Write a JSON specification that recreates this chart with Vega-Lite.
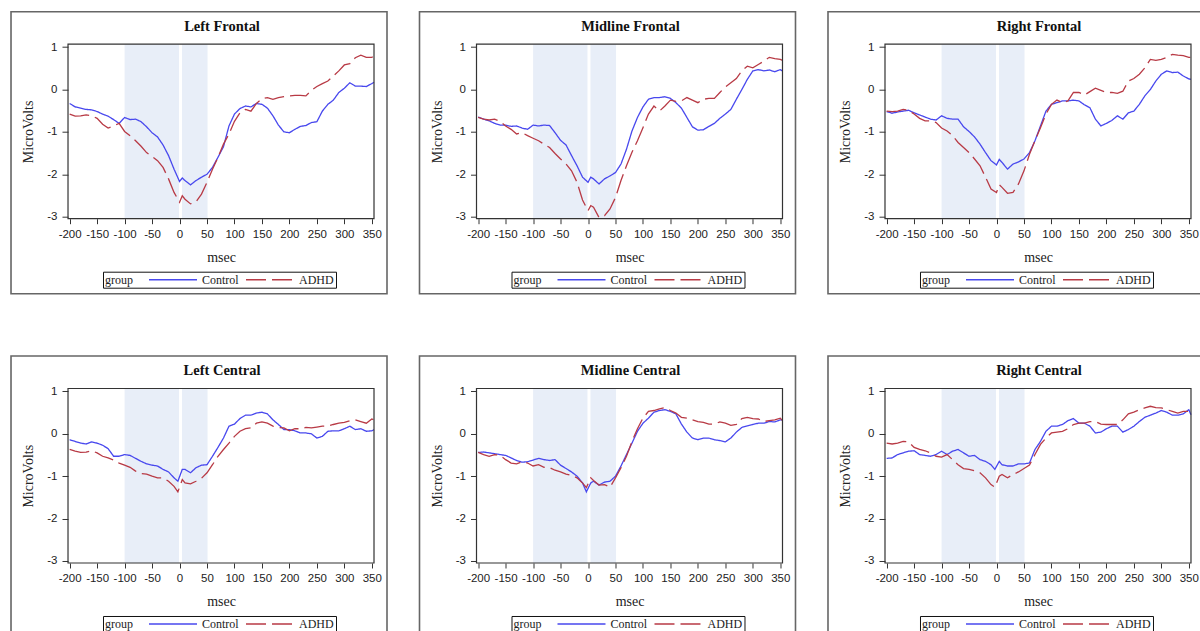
{
  "$schema": "https://vega.github.io/schema/vega-lite/v6.json",
  "padding": {"left": 10, "top": 10.7, "right": 0, "bottom": 0},
  "bounds": "flush",
  "columns": 3,
  "spacing": {"row": 62.3, "column": 32.5},
  "datasets": {
    "shade": [{"a": -100, "b": -1}, {"a": 4.5, "b": 51}],
    "frame": [{"x0": -203, "x1": 354, "y0": -3.05, "y1": 1.07}],
    "lf": [
      {"t":-200,"Control":-0.33,"ADHD":-0.58},{"t":-190,"Control":-0.41,"ADHD":-0.63},{"t":-180,"Control":-0.44,"ADHD":-0.62},{"t":-170,"Control":-0.47,"ADHD":-0.60},{"t":-160,"Control":-0.48,"ADHD":-0.62},{"t":-150,"Control":-0.52,"ADHD":-0.68},{"t":-140,"Control":-0.58,"ADHD":-0.82},{"t":-130,"Control":-0.63,"ADHD":-0.91},{"t":-120,"Control":-0.71,"ADHD":-0.86},{"t":-110,"Control":-0.80,"ADHD":-0.80},{"t":-100,"Control":-0.66,"ADHD":-0.99},{"t":-90,"Control":-0.71,"ADHD":-1.09},{"t":-80,"Control":-0.70,"ADHD":-1.21},{"t":-70,"Control":-0.76,"ADHD":-1.34},{"t":-60,"Control":-0.88,"ADHD":-1.49},{"t":-50,"Control":-1.02,"ADHD":-1.58},{"t":-40,"Control":-1.12,"ADHD":-1.68},{"t":-30,"Control":-1.31,"ADHD":-1.84},{"t":-20,"Control":-1.56,"ADHD":-2.11},{"t":-10,"Control":-1.88,"ADHD":-2.43},{"t":0,"Control":-2.17,"ADHD":-2.66},{"t":5,"Control":-2.09,"ADHD":-2.51},{"t":10,"Control":-2.15,"ADHD":-2.59},{"t":20,"Control":-2.25,"ADHD":-2.70},{"t":30,"Control":-2.15,"ADHD":-2.65},{"t":40,"Control":-2.07,"ADHD":-2.47},{"t":50,"Control":-2.00,"ADHD":-2.19},{"t":60,"Control":-1.84,"ADHD":-1.88},{"t":70,"Control":-1.60,"ADHD":-1.60},{"t":80,"Control":-1.35,"ADHD":-1.29},{"t":90,"Control":-0.86,"ADHD":-1.05},{"t":100,"Control":-0.58,"ADHD":-0.75},{"t":110,"Control":-0.45,"ADHD":-0.55},{"t":120,"Control":-0.39,"ADHD":-0.47},{"t":130,"Control":-0.41,"ADHD":-0.51},{"t":140,"Control":-0.33,"ADHD":-0.33},{"t":150,"Control":-0.35,"ADHD":-0.22},{"t":160,"Control":-0.44,"ADHD":-0.19},{"t":170,"Control":-0.62,"ADHD":-0.23},{"t":180,"Control":-0.84,"ADHD":-0.19},{"t":190,"Control":-1.00,"ADHD":-0.17},{"t":200,"Control":-1.02,"ADHD":-0.15},{"t":210,"Control":-0.94,"ADHD":-0.14},{"t":220,"Control":-0.87,"ADHD":-0.14},{"t":230,"Control":-0.85,"ADHD":-0.15},{"t":240,"Control":-0.78,"ADHD":-0.02},{"t":250,"Control":-0.76,"ADHD":0.07},{"t":260,"Control":-0.51,"ADHD":0.14},{"t":270,"Control":-0.35,"ADHD":0.20},{"t":280,"Control":-0.25,"ADHD":0.32},{"t":290,"Control":-0.07,"ADHD":0.44},{"t":300,"Control":0.03,"ADHD":0.58},{"t":310,"Control":0.16,"ADHD":0.61},{"t":320,"Control":0.08,"ADHD":0.75},{"t":330,"Control":0.08,"ADHD":0.81},{"t":340,"Control":0.07,"ADHD":0.76},{"t":350,"Control":0.14,"ADHD":0.76},{"t":354,"Control":0.17,"ADHD":0.79}
    ],
    "mf": [
      {"t":-200,"Control":-0.65,"ADHD":-0.66},{"t":-190,"Control":-0.70,"ADHD":-0.70},{"t":-180,"Control":-0.74,"ADHD":-0.72},{"t":-170,"Control":-0.80,"ADHD":-0.70},{"t":-160,"Control":-0.84,"ADHD":-0.75},{"t":-150,"Control":-0.84,"ADHD":-0.86},{"t":-140,"Control":-0.87,"ADHD":-0.94},{"t":-130,"Control":-0.86,"ADHD":-1.05},{"t":-120,"Control":-0.91,"ADHD":-1.02},{"t":-110,"Control":-0.94,"ADHD":-1.09},{"t":-100,"Control":-0.84,"ADHD":-1.15},{"t":-90,"Control":-0.86,"ADHD":-1.21},{"t":-80,"Control":-0.84,"ADHD":-1.29},{"t":-70,"Control":-0.85,"ADHD":-1.37},{"t":-60,"Control":-1.02,"ADHD":-1.51},{"t":-50,"Control":-1.20,"ADHD":-1.64},{"t":-40,"Control":-1.31,"ADHD":-1.76},{"t":-30,"Control":-1.56,"ADHD":-1.92},{"t":-20,"Control":-1.80,"ADHD":-2.19},{"t":-10,"Control":-2.07,"ADHD":-2.61},{"t":0,"Control":-2.19,"ADHD":-2.86},{"t":5,"Control":-2.07,"ADHD":-2.74},{"t":10,"Control":-2.11,"ADHD":-2.78},{"t":20,"Control":-2.23,"ADHD":-3.02},{"t":30,"Control":-2.11,"ADHD":-2.98},{"t":40,"Control":-2.04,"ADHD":-2.82},{"t":50,"Control":-1.96,"ADHD":-2.55},{"t":60,"Control":-1.76,"ADHD":-2.15},{"t":70,"Control":-1.41,"ADHD":-1.80},{"t":80,"Control":-0.98,"ADHD":-1.48},{"t":90,"Control":-0.66,"ADHD":-1.21},{"t":100,"Control":-0.41,"ADHD":-0.90},{"t":110,"Control":-0.23,"ADHD":-0.58},{"t":120,"Control":-0.19,"ADHD":-0.39},{"t":130,"Control":-0.19,"ADHD":-0.51},{"t":140,"Control":-0.17,"ADHD":-0.39},{"t":150,"Control":-0.21,"ADHD":-0.25},{"t":160,"Control":-0.31,"ADHD":-0.28},{"t":170,"Control":-0.44,"ADHD":-0.27},{"t":180,"Control":-0.66,"ADHD":-0.19},{"t":190,"Control":-0.88,"ADHD":-0.25},{"t":200,"Control":-0.96,"ADHD":-0.31},{"t":210,"Control":-0.95,"ADHD":-0.23},{"t":220,"Control":-0.87,"ADHD":-0.21},{"t":230,"Control":-0.80,"ADHD":-0.21},{"t":240,"Control":-0.68,"ADHD":-0.07},{"t":250,"Control":-0.58,"ADHD":0.06},{"t":260,"Control":-0.47,"ADHD":0.16},{"t":270,"Control":-0.23,"ADHD":0.26},{"t":280,"Control":0.00,"ADHD":0.44},{"t":290,"Control":0.24,"ADHD":0.55},{"t":300,"Control":0.44,"ADHD":0.51},{"t":310,"Control":0.47,"ADHD":0.59},{"t":320,"Control":0.44,"ADHD":0.67},{"t":330,"Control":0.46,"ADHD":0.76},{"t":340,"Control":0.42,"ADHD":0.73},{"t":350,"Control":0.47,"ADHD":0.71},{"t":354,"Control":0.44,"ADHD":0.69}
    ],
    "rf": [
      {"t":-200,"Control":-0.52,"ADHD":-0.51},{"t":-190,"Control":-0.56,"ADHD":-0.52},{"t":-180,"Control":-0.53,"ADHD":-0.51},{"t":-170,"Control":-0.51,"ADHD":-0.47},{"t":-160,"Control":-0.49,"ADHD":-0.49},{"t":-150,"Control":-0.55,"ADHD":-0.58},{"t":-140,"Control":-0.60,"ADHD":-0.68},{"t":-130,"Control":-0.65,"ADHD":-0.74},{"t":-120,"Control":-0.70,"ADHD":-0.74},{"t":-110,"Control":-0.72,"ADHD":-0.78},{"t":-100,"Control":-0.62,"ADHD":-0.91},{"t":-90,"Control":-0.68,"ADHD":-0.98},{"t":-80,"Control":-0.70,"ADHD":-1.09},{"t":-70,"Control":-0.70,"ADHD":-1.25},{"t":-60,"Control":-0.88,"ADHD":-1.37},{"t":-50,"Control":-0.99,"ADHD":-1.49},{"t":-40,"Control":-1.12,"ADHD":-1.64},{"t":-30,"Control":-1.29,"ADHD":-1.80},{"t":-20,"Control":-1.49,"ADHD":-2.07},{"t":-10,"Control":-1.68,"ADHD":-2.35},{"t":0,"Control":-1.78,"ADHD":-2.43},{"t":5,"Control":-1.65,"ADHD":-2.25},{"t":10,"Control":-1.72,"ADHD":-2.31},{"t":20,"Control":-1.88,"ADHD":-2.45},{"t":30,"Control":-1.76,"ADHD":-2.43},{"t":40,"Control":-1.71,"ADHD":-2.23},{"t":50,"Control":-1.64,"ADHD":-1.92},{"t":60,"Control":-1.49,"ADHD":-1.53},{"t":70,"Control":-1.21,"ADHD":-1.21},{"t":80,"Control":-0.86,"ADHD":-0.90},{"t":90,"Control":-0.51,"ADHD":-0.58},{"t":100,"Control":-0.35,"ADHD":-0.35},{"t":110,"Control":-0.31,"ADHD":-0.25},{"t":120,"Control":-0.27,"ADHD":-0.31},{"t":130,"Control":-0.27,"ADHD":-0.27},{"t":140,"Control":-0.25,"ADHD":-0.07},{"t":150,"Control":-0.27,"ADHD":-0.07},{"t":160,"Control":-0.36,"ADHD":-0.13},{"t":170,"Control":-0.43,"ADHD":-0.05},{"t":180,"Control":-0.70,"ADHD":0.03},{"t":190,"Control":-0.86,"ADHD":-0.02},{"t":200,"Control":-0.80,"ADHD":-0.07},{"t":210,"Control":-0.73,"ADHD":-0.07},{"t":220,"Control":-0.62,"ADHD":-0.09},{"t":230,"Control":-0.70,"ADHD":-0.04},{"t":240,"Control":-0.55,"ADHD":0.20},{"t":250,"Control":-0.51,"ADHD":0.26},{"t":260,"Control":-0.35,"ADHD":0.36},{"t":270,"Control":-0.15,"ADHD":0.51},{"t":280,"Control":0.00,"ADHD":0.71},{"t":290,"Control":0.20,"ADHD":0.69},{"t":300,"Control":0.36,"ADHD":0.71},{"t":310,"Control":0.44,"ADHD":0.76},{"t":320,"Control":0.40,"ADHD":0.83},{"t":330,"Control":0.41,"ADHD":0.81},{"t":340,"Control":0.32,"ADHD":0.80},{"t":350,"Control":0.25,"ADHD":0.76},{"t":354,"Control":0.24,"ADHD":0.76}
    ],
    "lc": [
      {"t":-200,"Control":-0.14,"ADHD":-0.37},{"t":-190,"Control":-0.18,"ADHD":-0.41},{"t":-180,"Control":-0.22,"ADHD":-0.44},{"t":-170,"Control":-0.24,"ADHD":-0.43},{"t":-160,"Control":-0.19,"ADHD":-0.40},{"t":-150,"Control":-0.22,"ADHD":-0.45},{"t":-140,"Control":-0.27,"ADHD":-0.53},{"t":-130,"Control":-0.35,"ADHD":-0.57},{"t":-120,"Control":-0.53,"ADHD":-0.62},{"t":-110,"Control":-0.53,"ADHD":-0.69},{"t":-100,"Control":-0.49,"ADHD":-0.74},{"t":-90,"Control":-0.51,"ADHD":-0.79},{"t":-80,"Control":-0.58,"ADHD":-0.88},{"t":-70,"Control":-0.65,"ADHD":-0.94},{"t":-60,"Control":-0.71,"ADHD":-0.95},{"t":-50,"Control":-0.74,"ADHD":-1.00},{"t":-40,"Control":-0.76,"ADHD":-1.04},{"t":-30,"Control":-0.84,"ADHD":-1.04},{"t":-20,"Control":-0.90,"ADHD":-1.12},{"t":-10,"Control":-1.04,"ADHD":-1.24},{"t":-3,"Control":-1.12,"ADHD":-1.37},{"t":5,"Control":-0.84,"ADHD":-1.08},{"t":10,"Control":-0.84,"ADHD":-1.16},{"t":20,"Control":-0.92,"ADHD":-1.18},{"t":30,"Control":-0.80,"ADHD":-1.12},{"t":40,"Control":-0.74,"ADHD":-1.05},{"t":50,"Control":-0.73,"ADHD":-0.92},{"t":60,"Control":-0.53,"ADHD":-0.73},{"t":70,"Control":-0.32,"ADHD":-0.53},{"t":80,"Control":-0.10,"ADHD":-0.37},{"t":90,"Control":0.18,"ADHD":-0.22},{"t":100,"Control":0.23,"ADHD":-0.06},{"t":110,"Control":0.36,"ADHD":0.06},{"t":120,"Control":0.44,"ADHD":0.12},{"t":130,"Control":0.44,"ADHD":0.14},{"t":140,"Control":0.49,"ADHD":0.25},{"t":150,"Control":0.51,"ADHD":0.28},{"t":160,"Control":0.47,"ADHD":0.25},{"t":170,"Control":0.33,"ADHD":0.18},{"t":180,"Control":0.22,"ADHD":0.15},{"t":190,"Control":0.10,"ADHD":0.14},{"t":200,"Control":0.10,"ADHD":0.07},{"t":210,"Control":0.07,"ADHD":0.12},{"t":220,"Control":0.02,"ADHD":0.12},{"t":230,"Control":0.02,"ADHD":0.15},{"t":240,"Control":0.00,"ADHD":0.14},{"t":250,"Control":-0.10,"ADHD":0.16},{"t":260,"Control":-0.06,"ADHD":0.18},{"t":270,"Control":0.06,"ADHD":0.18},{"t":280,"Control":0.07,"ADHD":0.22},{"t":290,"Control":0.07,"ADHD":0.25},{"t":300,"Control":0.12,"ADHD":0.27},{"t":310,"Control":0.18,"ADHD":0.31},{"t":320,"Control":0.10,"ADHD":0.33},{"t":330,"Control":0.12,"ADHD":0.29},{"t":340,"Control":0.06,"ADHD":0.25},{"t":350,"Control":0.07,"ADHD":0.35},{"t":354,"Control":0.10,"ADHD":0.33}
    ],
    "mc": [
      {"t":-200,"Control":-0.44,"ADHD":-0.44},{"t":-190,"Control":-0.43,"ADHD":-0.49},{"t":-180,"Control":-0.45,"ADHD":-0.53},{"t":-170,"Control":-0.47,"ADHD":-0.49},{"t":-160,"Control":-0.49,"ADHD":-0.51},{"t":-150,"Control":-0.51,"ADHD":-0.61},{"t":-140,"Control":-0.57,"ADHD":-0.69},{"t":-130,"Control":-0.63,"ADHD":-0.71},{"t":-120,"Control":-0.67,"ADHD":-0.66},{"t":-110,"Control":-0.66,"ADHD":-0.69},{"t":-100,"Control":-0.62,"ADHD":-0.76},{"t":-90,"Control":-0.58,"ADHD":-0.73},{"t":-80,"Control":-0.61,"ADHD":-0.79},{"t":-70,"Control":-0.63,"ADHD":-0.80},{"t":-60,"Control":-0.61,"ADHD":-0.86},{"t":-50,"Control":-0.74,"ADHD":-0.90},{"t":-40,"Control":-0.82,"ADHD":-0.95},{"t":-30,"Control":-0.90,"ADHD":-0.98},{"t":-20,"Control":-1.00,"ADHD":-1.04},{"t":-10,"Control":-1.16,"ADHD":-1.16},{"t":-3,"Control":-1.37,"ADHD":-1.27},{"t":5,"Control":-1.16,"ADHD":-1.04},{"t":10,"Control":-1.12,"ADHD":-1.10},{"t":20,"Control":-1.21,"ADHD":-1.21},{"t":30,"Control":-1.14,"ADHD":-1.20},{"t":40,"Control":-1.12,"ADHD":-1.26},{"t":50,"Control":-1.00,"ADHD":-1.04},{"t":60,"Control":-0.76,"ADHD":-0.80},{"t":70,"Control":-0.49,"ADHD":-0.53},{"t":80,"Control":-0.22,"ADHD":-0.18},{"t":90,"Control":0.06,"ADHD":0.12},{"t":100,"Control":0.25,"ADHD":0.37},{"t":110,"Control":0.37,"ADHD":0.53},{"t":120,"Control":0.51,"ADHD":0.55},{"t":130,"Control":0.55,"ADHD":0.59},{"t":140,"Control":0.57,"ADHD":0.62},{"t":150,"Control":0.53,"ADHD":0.55},{"t":160,"Control":0.47,"ADHD":0.49},{"t":170,"Control":0.23,"ADHD":0.39},{"t":180,"Control":0.04,"ADHD":0.37},{"t":190,"Control":-0.10,"ADHD":0.33},{"t":200,"Control":-0.14,"ADHD":0.29},{"t":210,"Control":-0.10,"ADHD":0.27},{"t":220,"Control":-0.10,"ADHD":0.23},{"t":230,"Control":-0.14,"ADHD":0.23},{"t":240,"Control":-0.16,"ADHD":0.28},{"t":250,"Control":-0.19,"ADHD":0.25},{"t":260,"Control":-0.10,"ADHD":0.20},{"t":270,"Control":0.04,"ADHD":0.22},{"t":280,"Control":0.15,"ADHD":0.36},{"t":290,"Control":0.19,"ADHD":0.39},{"t":300,"Control":0.22,"ADHD":0.36},{"t":310,"Control":0.25,"ADHD":0.35},{"t":320,"Control":0.25,"ADHD":0.29},{"t":330,"Control":0.29,"ADHD":0.31},{"t":340,"Control":0.28,"ADHD":0.33},{"t":350,"Control":0.33,"ADHD":0.37},{"t":354,"Control":0.33,"ADHD":0.31}
    ],
    "rc": [
      {"t":-200,"Control":-0.58,"ADHD":-0.22},{"t":-190,"Control":-0.57,"ADHD":-0.24},{"t":-180,"Control":-0.49,"ADHD":-0.22},{"t":-170,"Control":-0.45,"ADHD":-0.18},{"t":-160,"Control":-0.41,"ADHD":-0.19},{"t":-150,"Control":-0.40,"ADHD":-0.32},{"t":-140,"Control":-0.49,"ADHD":-0.37},{"t":-130,"Control":-0.51,"ADHD":-0.40},{"t":-120,"Control":-0.53,"ADHD":-0.45},{"t":-110,"Control":-0.49,"ADHD":-0.53},{"t":-100,"Control":-0.41,"ADHD":-0.55},{"t":-90,"Control":-0.49,"ADHD":-0.49},{"t":-80,"Control":-0.41,"ADHD":-0.61},{"t":-70,"Control":-0.37,"ADHD":-0.73},{"t":-60,"Control":-0.45,"ADHD":-0.82},{"t":-50,"Control":-0.53,"ADHD":-0.84},{"t":-40,"Control":-0.51,"ADHD":-0.87},{"t":-30,"Control":-0.61,"ADHD":-0.92},{"t":-20,"Control":-0.65,"ADHD":-1.04},{"t":-10,"Control":-0.73,"ADHD":-1.20},{"t":-3,"Control":-0.84,"ADHD":-1.26},{"t":5,"Control":-0.65,"ADHD":-1.00},{"t":10,"Control":-0.73,"ADHD":-0.96},{"t":20,"Control":-0.76,"ADHD":-1.04},{"t":30,"Control":-0.76,"ADHD":-0.96},{"t":40,"Control":-0.71,"ADHD":-0.90},{"t":50,"Control":-0.71,"ADHD":-0.82},{"t":60,"Control":-0.69,"ADHD":-0.74},{"t":70,"Control":-0.37,"ADHD":-0.49},{"t":80,"Control":-0.18,"ADHD":-0.25},{"t":90,"Control":0.06,"ADHD":-0.10},{"t":100,"Control":0.18,"ADHD":0.02},{"t":110,"Control":0.18,"ADHD":0.04},{"t":120,"Control":0.22,"ADHD":0.06},{"t":130,"Control":0.31,"ADHD":0.12},{"t":140,"Control":0.36,"ADHD":0.22},{"t":150,"Control":0.25,"ADHD":0.25},{"t":160,"Control":0.25,"ADHD":0.25},{"t":170,"Control":0.18,"ADHD":0.29},{"t":180,"Control":0.02,"ADHD":0.29},{"t":190,"Control":0.04,"ADHD":0.23},{"t":200,"Control":0.12,"ADHD":0.22},{"t":210,"Control":0.18,"ADHD":0.22},{"t":220,"Control":0.18,"ADHD":0.22},{"t":230,"Control":0.04,"ADHD":0.33},{"t":240,"Control":0.10,"ADHD":0.47},{"t":250,"Control":0.18,"ADHD":0.51},{"t":260,"Control":0.29,"ADHD":0.57},{"t":270,"Control":0.39,"ADHD":0.61},{"t":280,"Control":0.44,"ADHD":0.65},{"t":290,"Control":0.49,"ADHD":0.62},{"t":300,"Control":0.55,"ADHD":0.61},{"t":310,"Control":0.51,"ADHD":0.57},{"t":320,"Control":0.44,"ADHD":0.53},{"t":330,"Control":0.44,"ADHD":0.49},{"t":340,"Control":0.47,"ADHD":0.53},{"t":350,"Control":0.57,"ADHD":0.53},{"t":354,"Control":0.45,"ADHD":0.47}
    ]
  },
  "resolve": {
    "scale": {"x": "independent", "y": "independent", "color": "independent", "strokeDash": "independent"},
    "axis": {"x": "independent", "y": "independent"},
    "legend": {"color": "independent", "strokeDash": "independent"}
  },
  "concat": [
    {"width": 376, "height": 282, "title": "Left Frontal", "layer": [
      {"data": {"name": "shade"}, "mark": {"type": "rect", "fill": "#e8eef8"}, "encoding": {"x": {"field": "a", "type": "quantitative", "scale": {"domain": [-203, 354], "range": [57, 363], "nice": false, "zero": false}, "axis": {"title": "msec", "orient": "bottom", "offset": -75, "values": [-200,-150,-100,-50,0,50,100,150,200,250,300,350], "tickSize": 5, "titlePadding": 10}}, "x2": {"field": "b"}, "y": {"datum": -3.05, "type": "quantitative", "scale": {"domain": [-3.05, 1.07], "range": [207, 32.5], "nice": false, "zero": false}, "axis": {"title": "MicroVolts", "orient": "left", "offset": -57, "values": [-3,-2,-1,0,1], "tickSize": 6, "titlePadding": 11}}, "y2": {"datum": 1.07}}},
      {"data": {"name": "lf"}, "transform": [{"fold": ["Control", "ADHD"], "as": ["group", "v"]}], "mark": {"type": "line", "strokeWidth": 1.3}, "encoding": {
        "x": {"field": "t", "type": "quantitative", "scale": {"domain": [-203, 354], "range": [57, 363], "nice": false, "zero": false}, "axis": {"title": "msec", "orient": "bottom", "offset": -75, "values": [-200,-150,-100,-50,0,50,100,150,200,250,300,350], "tickSize": 5, "titlePadding": 10}},
        "y": {"field": "v", "type": "quantitative", "scale": {"domain": [-3.05, 1.07], "range": [207, 32.5], "nice": false, "zero": false}, "axis": {"title": "MicroVolts", "orient": "left", "offset": -57, "values": [-3,-2,-1,0,1], "tickSize": 6, "titlePadding": 11}},
        "color": {"field": "group", "type": "nominal", "scale": {"domain": ["Control", "ADHD"], "range": ["#4848ee", "#b83a45"]}, "legend": {"orient": "none", "legendX": 92, "legendY": 260, "title": "group"}},
        "strokeDash": {"field": "group", "type": "nominal", "scale": {"domain": ["Control", "ADHD"], "range": [[1, 0], [20, 6]]}, "legend": {"orient": "none", "legendX": 92, "legendY": 260, "title": "group"}}}},
      {"data": {"name": "frame"}, "mark": {"type": "rect", "filled": false, "stroke": "#333", "strokeWidth": 1.2}, "encoding": {"x": {"field": "x0", "type": "quantitative", "scale": {"domain": [-203, 354], "range": [57, 363], "nice": false, "zero": false}, "axis": {"title": "msec", "orient": "bottom", "offset": -75, "values": [-200,-150,-100,-50,0,50,100,150,200,250,300,350], "tickSize": 5, "titlePadding": 10}}, "x2": {"field": "x1"}, "y": {"field": "y0", "type": "quantitative", "scale": {"domain": [-3.05, 1.07], "range": [207, 32.5], "nice": false, "zero": false}, "axis": {"title": "MicroVolts", "orient": "left", "offset": -57, "values": [-3,-2,-1,0,1], "tickSize": 6, "titlePadding": 11}}, "y2": {"field": "y1"}}}
    ]},
    {"width": 376, "height": 282, "title": "Midline Frontal", "layer": [
      {"data": {"name": "shade"}, "mark": {"type": "rect", "fill": "#e8eef8"}, "encoding": {"x": {"field": "a", "type": "quantitative", "scale": {"domain": [-203, 354], "range": [57, 363], "nice": false, "zero": false}, "axis": {"title": "msec", "orient": "bottom", "offset": -75, "values": [-200,-150,-100,-50,0,50,100,150,200,250,300,350], "tickSize": 5, "titlePadding": 10}}, "x2": {"field": "b"}, "y": {"datum": -3.05, "type": "quantitative", "scale": {"domain": [-3.05, 1.07], "range": [207, 32.5], "nice": false, "zero": false}, "axis": {"title": "MicroVolts", "orient": "left", "offset": -57, "values": [-3,-2,-1,0,1], "tickSize": 6, "titlePadding": 11}}, "y2": {"datum": 1.07}}},
      {"data": {"name": "mf"}, "transform": [{"fold": ["Control", "ADHD"], "as": ["group", "v"]}], "mark": {"type": "line", "strokeWidth": 1.3}, "encoding": {
        "x": {"field": "t", "type": "quantitative", "scale": {"domain": [-203, 354], "range": [57, 363], "nice": false, "zero": false}, "axis": {"title": "msec", "orient": "bottom", "offset": -75, "values": [-200,-150,-100,-50,0,50,100,150,200,250,300,350], "tickSize": 5, "titlePadding": 10}},
        "y": {"field": "v", "type": "quantitative", "scale": {"domain": [-3.05, 1.07], "range": [207, 32.5], "nice": false, "zero": false}, "axis": {"title": "MicroVolts", "orient": "left", "offset": -57, "values": [-3,-2,-1,0,1], "tickSize": 6, "titlePadding": 11}},
        "color": {"field": "group", "type": "nominal", "scale": {"domain": ["Control", "ADHD"], "range": ["#4848ee", "#b83a45"]}, "legend": {"orient": "none", "legendX": 92, "legendY": 260, "title": "group"}},
        "strokeDash": {"field": "group", "type": "nominal", "scale": {"domain": ["Control", "ADHD"], "range": [[1, 0], [20, 6]]}, "legend": {"orient": "none", "legendX": 92, "legendY": 260, "title": "group"}}}},
      {"data": {"name": "frame"}, "mark": {"type": "rect", "filled": false, "stroke": "#333", "strokeWidth": 1.2}, "encoding": {"x": {"field": "x0", "type": "quantitative", "scale": {"domain": [-203, 354], "range": [57, 363], "nice": false, "zero": false}, "axis": {"title": "msec", "orient": "bottom", "offset": -75, "values": [-200,-150,-100,-50,0,50,100,150,200,250,300,350], "tickSize": 5, "titlePadding": 10}}, "x2": {"field": "x1"}, "y": {"field": "y0", "type": "quantitative", "scale": {"domain": [-3.05, 1.07], "range": [207, 32.5], "nice": false, "zero": false}, "axis": {"title": "MicroVolts", "orient": "left", "offset": -57, "values": [-3,-2,-1,0,1], "tickSize": 6, "titlePadding": 11}}, "y2": {"field": "y1"}}}
    ]},
    {"width": 376, "height": 282, "title": "Right Frontal", "layer": [
      {"data": {"name": "shade"}, "mark": {"type": "rect", "fill": "#e8eef8"}, "encoding": {"x": {"field": "a", "type": "quantitative", "scale": {"domain": [-203, 354], "range": [57, 363], "nice": false, "zero": false}, "axis": {"title": "msec", "orient": "bottom", "offset": -75, "values": [-200,-150,-100,-50,0,50,100,150,200,250,300,350], "tickSize": 5, "titlePadding": 10}}, "x2": {"field": "b"}, "y": {"datum": -3.05, "type": "quantitative", "scale": {"domain": [-3.05, 1.07], "range": [207, 32.5], "nice": false, "zero": false}, "axis": {"title": "MicroVolts", "orient": "left", "offset": -57, "values": [-3,-2,-1,0,1], "tickSize": 6, "titlePadding": 11}}, "y2": {"datum": 1.07}}},
      {"data": {"name": "rf"}, "transform": [{"fold": ["Control", "ADHD"], "as": ["group", "v"]}], "mark": {"type": "line", "strokeWidth": 1.3}, "encoding": {
        "x": {"field": "t", "type": "quantitative", "scale": {"domain": [-203, 354], "range": [57, 363], "nice": false, "zero": false}, "axis": {"title": "msec", "orient": "bottom", "offset": -75, "values": [-200,-150,-100,-50,0,50,100,150,200,250,300,350], "tickSize": 5, "titlePadding": 10}},
        "y": {"field": "v", "type": "quantitative", "scale": {"domain": [-3.05, 1.07], "range": [207, 32.5], "nice": false, "zero": false}, "axis": {"title": "MicroVolts", "orient": "left", "offset": -57, "values": [-3,-2,-1,0,1], "tickSize": 6, "titlePadding": 11}},
        "color": {"field": "group", "type": "nominal", "scale": {"domain": ["Control", "ADHD"], "range": ["#4848ee", "#b83a45"]}, "legend": {"orient": "none", "legendX": 92, "legendY": 260, "title": "group"}},
        "strokeDash": {"field": "group", "type": "nominal", "scale": {"domain": ["Control", "ADHD"], "range": [[1, 0], [20, 6]]}, "legend": {"orient": "none", "legendX": 92, "legendY": 260, "title": "group"}}}},
      {"data": {"name": "frame"}, "mark": {"type": "rect", "filled": false, "stroke": "#333", "strokeWidth": 1.2}, "encoding": {"x": {"field": "x0", "type": "quantitative", "scale": {"domain": [-203, 354], "range": [57, 363], "nice": false, "zero": false}, "axis": {"title": "msec", "orient": "bottom", "offset": -75, "values": [-200,-150,-100,-50,0,50,100,150,200,250,300,350], "tickSize": 5, "titlePadding": 10}}, "x2": {"field": "x1"}, "y": {"field": "y0", "type": "quantitative", "scale": {"domain": [-3.05, 1.07], "range": [207, 32.5], "nice": false, "zero": false}, "axis": {"title": "MicroVolts", "orient": "left", "offset": -57, "values": [-3,-2,-1,0,1], "tickSize": 6, "titlePadding": 11}}, "y2": {"field": "y1"}}}
    ]},
    {"width": 376, "height": 282, "title": "Left Central", "layer": [
      {"data": {"name": "shade"}, "mark": {"type": "rect", "fill": "#e8eef8"}, "encoding": {"x": {"field": "a", "type": "quantitative", "scale": {"domain": [-203, 354], "range": [57, 363], "nice": false, "zero": false}, "axis": {"title": "msec", "orient": "bottom", "offset": -75, "values": [-200,-150,-100,-50,0,50,100,150,200,250,300,350], "tickSize": 5, "titlePadding": 10}}, "x2": {"field": "b"}, "y": {"datum": -3.05, "type": "quantitative", "scale": {"domain": [-3.05, 1.07], "range": [207, 32.5], "nice": false, "zero": false}, "axis": {"title": "MicroVolts", "orient": "left", "offset": -57, "values": [-3,-2,-1,0,1], "tickSize": 6, "titlePadding": 11}}, "y2": {"datum": 1.07}}},
      {"data": {"name": "lc"}, "transform": [{"fold": ["Control", "ADHD"], "as": ["group", "v"]}], "mark": {"type": "line", "strokeWidth": 1.3}, "encoding": {
        "x": {"field": "t", "type": "quantitative", "scale": {"domain": [-203, 354], "range": [57, 363], "nice": false, "zero": false}, "axis": {"title": "msec", "orient": "bottom", "offset": -75, "values": [-200,-150,-100,-50,0,50,100,150,200,250,300,350], "tickSize": 5, "titlePadding": 10}},
        "y": {"field": "v", "type": "quantitative", "scale": {"domain": [-3.05, 1.07], "range": [207, 32.5], "nice": false, "zero": false}, "axis": {"title": "MicroVolts", "orient": "left", "offset": -57, "values": [-3,-2,-1,0,1], "tickSize": 6, "titlePadding": 11}},
        "color": {"field": "group", "type": "nominal", "scale": {"domain": ["Control", "ADHD"], "range": ["#4848ee", "#b83a45"]}, "legend": {"orient": "none", "legendX": 92, "legendY": 260, "title": "group"}},
        "strokeDash": {"field": "group", "type": "nominal", "scale": {"domain": ["Control", "ADHD"], "range": [[1, 0], [20, 6]]}, "legend": {"orient": "none", "legendX": 92, "legendY": 260, "title": "group"}}}},
      {"data": {"name": "frame"}, "mark": {"type": "rect", "filled": false, "stroke": "#333", "strokeWidth": 1.2}, "encoding": {"x": {"field": "x0", "type": "quantitative", "scale": {"domain": [-203, 354], "range": [57, 363], "nice": false, "zero": false}, "axis": {"title": "msec", "orient": "bottom", "offset": -75, "values": [-200,-150,-100,-50,0,50,100,150,200,250,300,350], "tickSize": 5, "titlePadding": 10}}, "x2": {"field": "x1"}, "y": {"field": "y0", "type": "quantitative", "scale": {"domain": [-3.05, 1.07], "range": [207, 32.5], "nice": false, "zero": false}, "axis": {"title": "MicroVolts", "orient": "left", "offset": -57, "values": [-3,-2,-1,0,1], "tickSize": 6, "titlePadding": 11}}, "y2": {"field": "y1"}}}
    ]},
    {"width": 376, "height": 282, "title": "Midline Central", "layer": [
      {"data": {"name": "shade"}, "mark": {"type": "rect", "fill": "#e8eef8"}, "encoding": {"x": {"field": "a", "type": "quantitative", "scale": {"domain": [-203, 354], "range": [57, 363], "nice": false, "zero": false}, "axis": {"title": "msec", "orient": "bottom", "offset": -75, "values": [-200,-150,-100,-50,0,50,100,150,200,250,300,350], "tickSize": 5, "titlePadding": 10}}, "x2": {"field": "b"}, "y": {"datum": -3.05, "type": "quantitative", "scale": {"domain": [-3.05, 1.07], "range": [207, 32.5], "nice": false, "zero": false}, "axis": {"title": "MicroVolts", "orient": "left", "offset": -57, "values": [-3,-2,-1,0,1], "tickSize": 6, "titlePadding": 11}}, "y2": {"datum": 1.07}}},
      {"data": {"name": "mc"}, "transform": [{"fold": ["Control", "ADHD"], "as": ["group", "v"]}], "mark": {"type": "line", "strokeWidth": 1.3}, "encoding": {
        "x": {"field": "t", "type": "quantitative", "scale": {"domain": [-203, 354], "range": [57, 363], "nice": false, "zero": false}, "axis": {"title": "msec", "orient": "bottom", "offset": -75, "values": [-200,-150,-100,-50,0,50,100,150,200,250,300,350], "tickSize": 5, "titlePadding": 10}},
        "y": {"field": "v", "type": "quantitative", "scale": {"domain": [-3.05, 1.07], "range": [207, 32.5], "nice": false, "zero": false}, "axis": {"title": "MicroVolts", "orient": "left", "offset": -57, "values": [-3,-2,-1,0,1], "tickSize": 6, "titlePadding": 11}},
        "color": {"field": "group", "type": "nominal", "scale": {"domain": ["Control", "ADHD"], "range": ["#4848ee", "#b83a45"]}, "legend": {"orient": "none", "legendX": 92, "legendY": 260, "title": "group"}},
        "strokeDash": {"field": "group", "type": "nominal", "scale": {"domain": ["Control", "ADHD"], "range": [[1, 0], [20, 6]]}, "legend": {"orient": "none", "legendX": 92, "legendY": 260, "title": "group"}}}},
      {"data": {"name": "frame"}, "mark": {"type": "rect", "filled": false, "stroke": "#333", "strokeWidth": 1.2}, "encoding": {"x": {"field": "x0", "type": "quantitative", "scale": {"domain": [-203, 354], "range": [57, 363], "nice": false, "zero": false}, "axis": {"title": "msec", "orient": "bottom", "offset": -75, "values": [-200,-150,-100,-50,0,50,100,150,200,250,300,350], "tickSize": 5, "titlePadding": 10}}, "x2": {"field": "x1"}, "y": {"field": "y0", "type": "quantitative", "scale": {"domain": [-3.05, 1.07], "range": [207, 32.5], "nice": false, "zero": false}, "axis": {"title": "MicroVolts", "orient": "left", "offset": -57, "values": [-3,-2,-1,0,1], "tickSize": 6, "titlePadding": 11}}, "y2": {"field": "y1"}}}
    ]},
    {"width": 376, "height": 282, "title": "Right Central", "layer": [
      {"data": {"name": "shade"}, "mark": {"type": "rect", "fill": "#e8eef8"}, "encoding": {"x": {"field": "a", "type": "quantitative", "scale": {"domain": [-203, 354], "range": [57, 363], "nice": false, "zero": false}, "axis": {"title": "msec", "orient": "bottom", "offset": -75, "values": [-200,-150,-100,-50,0,50,100,150,200,250,300,350], "tickSize": 5, "titlePadding": 10}}, "x2": {"field": "b"}, "y": {"datum": -3.05, "type": "quantitative", "scale": {"domain": [-3.05, 1.07], "range": [207, 32.5], "nice": false, "zero": false}, "axis": {"title": "MicroVolts", "orient": "left", "offset": -57, "values": [-3,-2,-1,0,1], "tickSize": 6, "titlePadding": 11}}, "y2": {"datum": 1.07}}},
      {"data": {"name": "rc"}, "transform": [{"fold": ["Control", "ADHD"], "as": ["group", "v"]}], "mark": {"type": "line", "strokeWidth": 1.3}, "encoding": {
        "x": {"field": "t", "type": "quantitative", "scale": {"domain": [-203, 354], "range": [57, 363], "nice": false, "zero": false}, "axis": {"title": "msec", "orient": "bottom", "offset": -75, "values": [-200,-150,-100,-50,0,50,100,150,200,250,300,350], "tickSize": 5, "titlePadding": 10}},
        "y": {"field": "v", "type": "quantitative", "scale": {"domain": [-3.05, 1.07], "range": [207, 32.5], "nice": false, "zero": false}, "axis": {"title": "MicroVolts", "orient": "left", "offset": -57, "values": [-3,-2,-1,0,1], "tickSize": 6, "titlePadding": 11}},
        "color": {"field": "group", "type": "nominal", "scale": {"domain": ["Control", "ADHD"], "range": ["#4848ee", "#b83a45"]}, "legend": {"orient": "none", "legendX": 92, "legendY": 260, "title": "group"}},
        "strokeDash": {"field": "group", "type": "nominal", "scale": {"domain": ["Control", "ADHD"], "range": [[1, 0], [20, 6]]}, "legend": {"orient": "none", "legendX": 92, "legendY": 260, "title": "group"}}}},
      {"data": {"name": "frame"}, "mark": {"type": "rect", "filled": false, "stroke": "#333", "strokeWidth": 1.2}, "encoding": {"x": {"field": "x0", "type": "quantitative", "scale": {"domain": [-203, 354], "range": [57, 363], "nice": false, "zero": false}, "axis": {"title": "msec", "orient": "bottom", "offset": -75, "values": [-200,-150,-100,-50,0,50,100,150,200,250,300,350], "tickSize": 5, "titlePadding": 10}}, "x2": {"field": "x1"}, "y": {"field": "y0", "type": "quantitative", "scale": {"domain": [-3.05, 1.07], "range": [207, 32.5], "nice": false, "zero": false}, "axis": {"title": "MicroVolts", "orient": "left", "offset": -57, "values": [-3,-2,-1,0,1], "tickSize": 6, "titlePadding": 11}}, "y2": {"field": "y1"}}}
    ]}
  ],
  "config": {
    "view": {"stroke": "#666", "strokeWidth": 1.6},
    "title": {"font": "Liberation Serif", "fontSize": 14.5, "fontWeight": "bold", "color": "#111", "anchor": "middle", "frame": "group", "offset": -23, "dx": 23},
    "axis": {"domain": false, "grid": false, "tickColor": "#333", "tickWidth": 1, "labelFont": "Liberation Sans", "labelFontSize": 11.5, "labelColor": "#222", "labelPadding": 5, "labelFlush": false, "labelOverlap": false, "labelExpr": "'' + datum.value", "titleFont": "Liberation Serif", "titleFontSize": 14, "titleFontWeight": "normal", "titleColor": "#222"},
    "legend": {"strokeColor": "#111", "padding": 2, "direction": "horizontal", "titleOrient": "left", "titleFont": "Liberation Serif", "titleFontSize": 12, "titleFontWeight": "normal", "titleColor": "#222", "titlePadding": 15, "labelFont": "Liberation Serif", "labelFontSize": 12, "labelColor": "#222", "symbolType": "stroke", "symbolSize": 2304, "symbolStrokeWidth": 1.5, "clipHeight": 12, "labelOffset": 4, "columnPadding": 6}
  }
}
